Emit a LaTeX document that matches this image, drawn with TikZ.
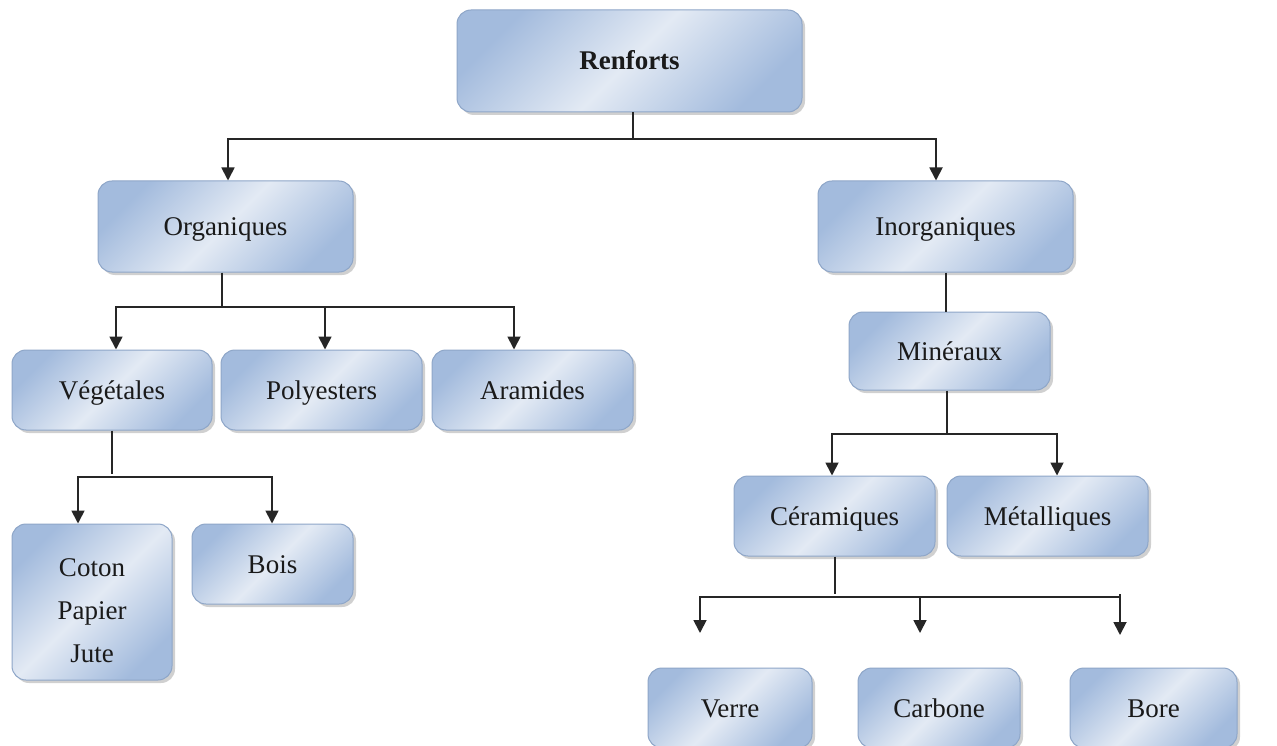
\documentclass[tikz,border=0pt]{standalone}
\usepackage{fontspec}
\setmainfont{Liberation Serif}
\usetikzlibrary{shadows,arrows.meta}
\definecolor{boxedge}{HTML}{8EA6C8}
\definecolor{boxdark}{HTML}{A3BBDD}
\definecolor{boxlight}{HTML}{E3EAF4}
\definecolor{txt}{HTML}{1A1A1A}
\tikzset{
  box/.style={draw=boxedge, line width=1pt, rounded corners=14pt,
    left color=boxdark, right color=boxdark, middle color=boxlight, shading angle=45,
    drop shadow={shadow xshift=3pt, shadow yshift=-3pt, opacity=0.3, fill=black!60},
    font=\fontsize{27}{43}\selectfont, text=txt, align=center, inner sep=0pt},
  onebox/.style={box, text height=22pt, text depth=4pt},
  conn/.style={line width=1.8pt, draw=black!85},
  arr/.style={conn, -{Triangle[length=13pt,width=13pt]}},
}
\begin{document}
\begin{tikzpicture}[x=1pt,y=-1pt]
\useasboundingbox[fill=white] (0,0) rectangle (1277,746);
% boxes
\node[onebox, minimum width=345pt, minimum height=102pt, font=\fontsize{27}{43}\selectfont\bfseries] (R) at (629.5,61) {Renforts};
\node[onebox, minimum width=255pt, minimum height=91pt] (O) at (225.5,226.5) {Organiques};
\node[onebox, minimum width=255pt, minimum height=91pt] (I) at (945.5,226.5) {Inorganiques};
\node[onebox, minimum width=200pt, minimum height=80pt] (V) at (112,390) {Végétales};
\node[onebox, minimum width=201pt, minimum height=80pt] (P) at (321.5,390) {Polyesters};
\node[onebox, minimum width=201pt, minimum height=80pt] (A) at (532.5,390) {Aramides};
\node[onebox, minimum width=201pt, minimum height=78pt] (M) at (949.5,351) {Minéraux};
\node[onebox, minimum width=201pt, minimum height=80pt] (C) at (834.5,516) {Céramiques};
\node[onebox, minimum width=201pt, minimum height=80pt] (Me) at (1047.5,516) {Métalliques};
\node[box, minimum width=160pt, minimum height=156pt] (CPJ) at (92,602) {\raisebox{-15pt}[60pt][60pt]{\begin{tabular}{@{}c@{}}Coton\\Papier\\Jute\end{tabular}}};
\node[onebox, minimum width=161pt, minimum height=80pt] (B) at (272.5,564) {Bois};
\node[onebox, minimum width=164pt, minimum height=80pt] (Ve) at (730,708) {Verre};
\node[onebox, minimum width=162pt, minimum height=80pt] (Ca) at (939,708) {Carbone};
\node[onebox, minimum width=167pt, minimum height=80pt] (Bo) at (1153.5,708) {Bore};
% junction coordinates
\coordinate (jR) at (633,139);
\coordinate (jO) at (222,307);
\coordinate (jV) at (112,477);
\coordinate (jI) at (946,0);
\coordinate (jM) at (947,434);
\coordinate (jC) at (835,597);
\coordinate (eVe) at (700,633);
\coordinate (eCa) at (920,633);
\coordinate (eBo) at (1120,635);
% connectors
\draw[conn] ([xshift=3.5pt]R.south) -- (jR);
\draw[arr] (jR) -| ([xshift=2.5pt]O.north);
\draw[arr] (jR) -| ([xshift=-9.5pt]I.north);
\draw[conn] ([xshift=-3.5pt]O.south) -- (jO);
\draw[arr] (jO) -| ([xshift=4pt]V.north);
\draw[arr] (jO) -| ([xshift=3.5pt]P.north);
\draw[arr] (jO) -| ([xshift=-18.5pt]A.north);
\draw[conn] (I.south -| jI) -- (M.north -| jI);
\draw[conn] ([xshift=-2.5pt]M.south) -- (jM);
\draw[arr] (jM) -| ([xshift=-2.5pt]C.north);
\draw[arr] (jM) -| ([xshift=9.5pt]Me.north);
\draw[conn] (V.south) -- ([yshift=3pt]jV);
\draw[arr] (jV) -| ([xshift=-14pt]CPJ.north);
\draw[arr] (jV) -| ([xshift=-0.5pt]B.north);
\draw[conn] ([xshift=0.5pt]C.south) -- ([yshift=3pt]jC);
\draw[arr] (jC) -| (eVe);
\draw[arr] (jC) -| (eCa);
\draw[conn] (jC) -- (jC -| eBo);
\draw[arr] ([yshift=3pt]jC -| eBo) -- (eBo);
\end{tikzpicture}
\end{document}
